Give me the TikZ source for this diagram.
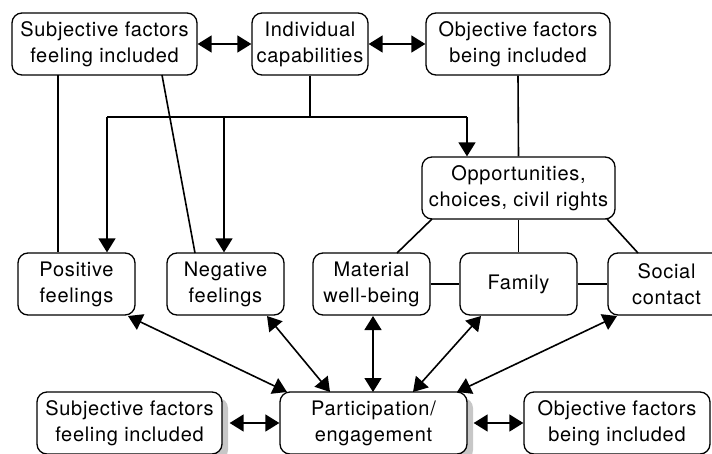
\documentclass[tikz,border=0pt]{standalone}
\usepackage{fontspec}
\setmainfont{TeX Gyre Heros}[LetterSpace=3.5]
\usetikzlibrary{arrows.meta,shadows}
\begin{document}
\begin{tikzpicture}[x=1pt,y=-1pt,
  box/.style={draw, line width=1.3pt, rounded corners=10pt, align=center,
    inner sep=0pt, minimum height=62pt, font=\fontsize{20}{26}\selectfont, fill=white},
  wbox/.style={box, minimum width=185pt},
  nbox/.style={box, minimum width=117pt},
  shad/.style={drop shadow={shadow xshift=6pt, shadow yshift=-6pt, fill=black!22, opacity=1}},
  ln/.style={line width=1.6pt},
  arr/.style={ln, -{Triangle[length=14pt,width=17pt]}},
  darr/.style={ln, {Triangle[length=14pt,width=17pt]}-{Triangle[length=14pt,width=17pt]}}]
\clip (0,0) rectangle (712,453);
% top row
\node[wbox] (subT) at (104.5,44) {Subjective factors\\feeling included};
\node[box, minimum width=116pt] (ind) at (310,44) {Individual\\capabilities};
\node[wbox, minimum width=184pt] (objT) at (518,44) {Objective factors\\being included};
% opportunities
\node[box, minimum width=193pt] (opp) at (518.5,188) {Opportunities,\\choices, civil rights};
% middle row
\node[nbox] (pos) at (76.5,284) {Positive\\feelings};
\node[nbox] (neg) at (225.5,284) {Negative\\feelings};
\node[nbox] (mat) at (371.5,284) {Material\\well-being};
\node[nbox] (fam) at (518.5,284) {Family};
\node[nbox] (soc) at (666.5,284) {Social\\contact};
% bottom row
\node[wbox, shad] (subB) at (129.5,423) {Subjective factors\\feeling included};
\node[wbox, minimum width=187pt, shad] (par) at (373.5,423) {Participation/\\engagement};
\node[wbox, minimum width=186pt] (objB) at (617,423) {Objective factors\\being included};
% top arrows
\draw[darr] (subT) -- (ind);
\draw[darr] (ind) -- (objT);
% distribution from capabilities
\coordinate (hl) at (107,117);
\coordinate (hm) at (224,117);
\coordinate (hr) at (467,117);
\draw[ln] (ind.south) -- (ind.south |- hl);
\draw[ln] (hl) -- (hr);
\draw[arr] (hl) -- (hl |- pos.north);
\draw[arr] (hm) -- (hm |- neg.north);
\draw[arr] (hr) -- (hr |- opp.north);
% subjective lines
\coordinate (s1) at (58,75);
\coordinate (s2) at (162,75);
\coordinate (n1) at (195,253);
\draw[ln] (s1) -- (s1 |- pos.north);
\draw[ln] (s2) -- (n1);
% objective line
\draw[ln] (objT.south) -- (opp.north);
% opportunities to domains
\coordinate (o1) at (432,219);
\coordinate (o3) at (607,219);
\coordinate (m1) at (397,253);
\coordinate (c1) at (638,253);
\draw[ln] (o1) -- (m1);
\draw[ln] (opp.south) -- (fam.north);
\draw[ln] (o3) -- (c1);
\draw[ln] (mat.east) -- (fam.west);
\draw[ln] (fam.east) -- (soc.west);
% arrows to participation
\coordinate (p1) at (128,316);
\coordinate (q1) at (287,392);
\coordinate (p2) at (267,316);
\coordinate (q2) at (330,392);
\coordinate (p3) at (373,316);
\coordinate (q3) at (373,392);
\coordinate (p4) at (481,316);
\coordinate (q4) at (413,392);
\coordinate (p5) at (617,316);
\coordinate (q5) at (457,392);
\draw[darr] (p1) -- (q1);
\draw[darr] (p2) -- (q2);
\draw[darr] (p3) -- (q3);
\draw[darr] (p4) -- (q4);
\draw[darr] (p5) -- (q5);
% bottom arrows
\draw[darr] (subB.east) ++(7,0) coordinate (b1) (b1) -- (par.west);
\draw[darr] (par.east) ++(6,0) coordinate (b2) (b2) -- (objB.west);
\end{tikzpicture}
\end{document}
